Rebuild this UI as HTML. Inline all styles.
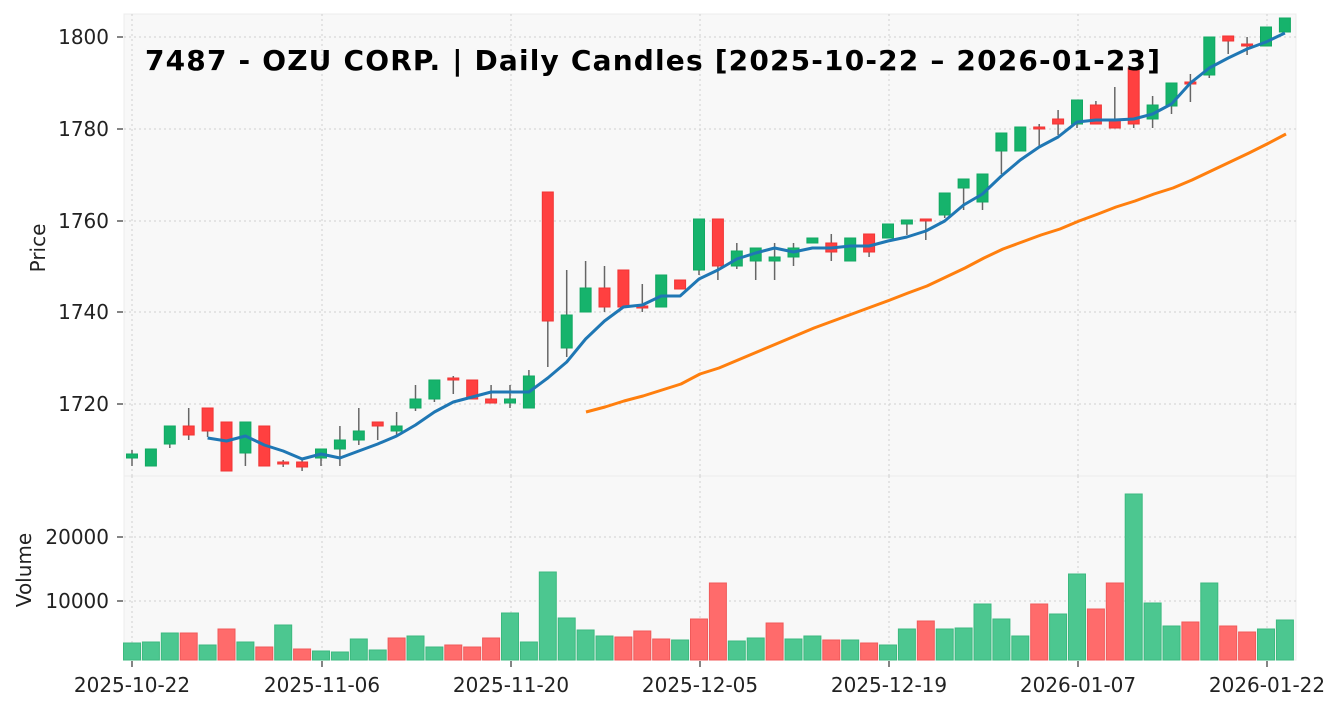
<!DOCTYPE html>
<html><head><meta charset="utf-8"><style>
body{margin:0;background:#fff;}
svg{display:block;font-family:"DejaVu Sans","Liberation Sans",sans-serif;}
</style></head><body>
<svg id="s" width="1344" height="711" viewBox="0 0 1344 711" xmlns="http://www.w3.org/2000/svg">
<rect x="0" y="0" width="1344" height="711" fill="#fff"/>
<rect x="124" y="14" width="1172" height="462" fill="#f8f8f8" stroke="#ececec"/>
<rect x="124" y="476" width="1172" height="184" fill="#f8f8f8" stroke="#ececec"/>
<g id="grid" stroke="#cfcfcf" stroke-dasharray="2,3" stroke-width="1"></g>
<g id="vol"></g>
<g id="cand"></g>
<g id="lines"></g>
<g stroke="#333" stroke-width="1.2">
<line x1="117" x2="123" y1="37" y2="37"/><line x1="117" x2="123" y1="129" y2="129"/><line x1="117" x2="123" y1="221" y2="221"/><line x1="117" x2="123" y1="312" y2="312"/><line x1="117" x2="123" y1="404" y2="404"/>
<line x1="117" x2="123" y1="537" y2="537"/><line x1="117" x2="123" y1="601" y2="601"/>
<line x1="132" x2="132" y1="661" y2="667"/><line x1="322" x2="322" y1="661" y2="667"/><line x1="511" x2="511" y1="661" y2="667"/><line x1="700" x2="700" y1="661" y2="667"/><line x1="889" x2="889" y1="661" y2="667"/><line x1="1078" x2="1078" y1="661" y2="667"/><line x1="1267" x2="1267" y1="661" y2="667"/>
</g>
<g font-size="20" fill="#222" text-anchor="end">
<text x="109" y="44">1800</text>
<text x="109" y="136">1780</text>
<text x="109" y="228">1760</text>
<text x="109" y="319">1740</text>
<text x="109" y="411">1720</text>
<text x="109" y="544">20000</text>
<text x="109" y="608">10000</text>
</g>
<g font-size="20" fill="#222" text-anchor="middle">
<text x="132" y="692">2025-10-22</text>
<text x="322" y="692">2025-11-06</text>
<text x="511" y="692">2025-11-20</text>
<text x="700" y="692">2025-12-05</text>
<text x="889" y="692">2025-12-19</text>
<text x="1078" y="692">2026-01-07</text>
<text x="1267" y="692">2026-01-22</text>
</g>
<text transform="translate(45,248) rotate(-90)" font-size="20" fill="#222" text-anchor="middle">Price</text>
<text transform="translate(31,570) rotate(-90)" font-size="20" fill="#222" text-anchor="middle">Volume</text>
<text x="145" y="70" font-size="28" font-weight="bold" fill="#000" textLength="1015" lengthAdjust="spacing">7487 - OZU CORP. | Daily Candles [2025-10-22 – 2026-01-23]</text>
</svg>
<script>
var NS="http://www.w3.org/2000/svg";
function el(p,t,a){var e=document.createElementNS(NS,t);for(var k in a)e.setAttribute(k,a[k]);document.getElementById(p).appendChild(e);return e;}
var xs=[132,322,511,700,889,1078,1267];
xs.forEach(function(x){el("grid","line",{x1:x,x2:x,y1:14,y2:476});el("grid","line",{x1:x,x2:x,y1:476,y2:660});});
[37,129,221,312,404].forEach(function(y){el("grid","line",{x1:124,x2:1296,y1:y,y2:y});});
[537,601].forEach(function(y){el("grid","line",{x1:124,x2:1296,y1:y,y2:y});});
var C=[
["g",454,458,450,466],["g",449,466,449,466],["g",426,444,426,448],["r",426,435,408,440],["r",408,431,408,437],
["r",422,471,422,471],["g",422,453,422,466],["r",426,466,426,466],["r",462,464,460,467],["r",462,467,460,471],
["g",449,458,449,466],["g",440,449,426,466],["g",431,440,408,445],["r",422,426,422,440],["g",426,431,412,437],
["g",399,408,385,411],["g",380,399,380,402],["r",378,380,376,394],["r",380,399,380,399],["r",399,403,385,403],
["g",399,403,385,408],["g",376,408,370,408],["r",192,321,192,367],["g",315,348,270,357],["g",288,312,261,312],
["r",288,307,266,312],["r",270,307,270,307],["r",306,308,284,312],["g",275,307,275,307],["r",280,289,280,289],
["g",219,270,219,275],["r",219,266,219,280],["g",251,266,243,269],["g",248,261,248,280],["g",257,261,243,280],
["g",248,257,243,266],["g",238,243,238,243],["r",243,252,234,261],["g",238,261,238,261],["r",234,252,234,257],
["g",224,238,224,238],["g",220,224,220,235],["r",219,221,219,240],["g",193,215,193,218],["g",179,188,179,210],
["g",174,202,174,210],["g",133,151,133,174],["g",127,151,127,151],["r",127,129,124,148],["r",119,124,110,135],
["g",100,124,100,128],["r",105,124,101,124],["r",119,128,87,128],["r",68,124,68,128],["g",105,119,96,128],
["g",83,106,83,114],["r",82,84,74,102],["g",37,75,37,78],["r",36,41,36,54],["r",44,46,37,55],
["g",27,46,27,46],["g",18,32,18,32]];
var V=[643,642,633,633,645,629,642,647,625,649,651,652,639,650,638,636,647,645,647,638,613,642,572,618,630,636,637,631,639,640,619,583,641,638,623,639,636,640,640,643,645,629,621,629,628,604,619,636,604,614,574,609,583,494,603,626,622,583,626,632,629,620];
var VC="gggrgrgrgrggggrggrrrggggggrrrgrrggrggrgrggrgggggrggrrgggrgrrgg";
function X(i){return 132+18.9*i;}
C.forEach(function(c,i){
 var x=X(i),col=c[0]=="g"?"#16b36c":"#ff4040",st=c[0]=="g"?"#11a862":"#f03535";
 var v=V[i],g=VC[i]=="g";
 el("vol","rect",{x:x-8.5,y:v,width:17,height:660-v,fill:g?"#4cc790":"#ff6b6b",stroke:g?"#3cb97f":"#f05a5a","stroke-width":1});
 el("cand","line",{x1:x,x2:x,y1:c[3],y2:c[4],stroke:"#666","stroke-width":1.5});
 var h=Math.max(c[2]-c[1],2);
 el("cand","rect",{x:x-5.5,y:c[1],width:11,height:h,fill:col,stroke:st,"stroke-width":1});
});
var B=[438,441,436,445,451,459,454,458,451,444,436,425,412,402,397,392,392,392,378,362,339,321,307,305,296,296,279,270,259,253,248,252,248,248,246,246,241,237,231,221,205,194,176,160,147,137,122,120,120,119,114,104,83,68,58,49,42,33];
var pb=B.map(function(y,k){return X(k+4).toFixed(1)+","+y;}).join(" ");
el("lines","polyline",{points:pb,fill:"none",stroke:"#1f77b4","stroke-width":3,"stroke-linejoin":"round"});
var O=[[586,412],[605,407],[624,401],[643,396],[662,390],[681,384],[700,374],[719,368],[738,360],[757,352],[776,344],[795,336],[814,328],[833,321],[852,314],[871,307],[890,300],[908,293],[927,286],[946,277],[965,268],[984,258],[1003,249],[1022,242],[1041,235],[1060,229],[1079,221],[1098,214],[1116,207],[1135,201],[1154,194],[1173,188],[1192,180],[1211,171],[1230,162],[1249,153],[1267,144],[1286,134]];
el("lines","polyline",{points:O.map(function(p){return p.join(",");}).join(" "),fill:"none",stroke:"#ff7f0e","stroke-width":3,"stroke-linejoin":"round"});
</script>
</body></html>
